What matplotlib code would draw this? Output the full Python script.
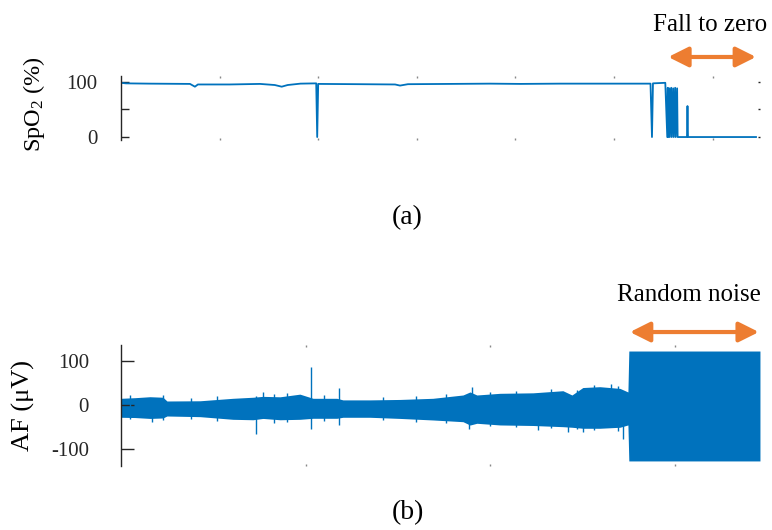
import matplotlib
matplotlib.use("Agg")
import matplotlib.pyplot as plt
from matplotlib.transforms import ScaledTranslation
import numpy as np

# SpO2 trace (time in top-axis units, value in %)
spo2_t = [0.00, 0.05, 0.29, 0.70, 0.75, 0.78, 1.10, 1.41, 1.56, 1.63, 1.69, 1.82,
          1.98, 1.99, 2.00, 2.42, 2.78, 2.83, 2.91, 3.34, 3.74, 4.05, 4.45, 4.86,
          5.37, 5.385, 5.395, 5.52, 5.54, 5.545, 5.55, 5.56, 5.565, 5.58, 5.585,
          5.60, 5.605, 5.62, 5.625, 5.64, 5.645, 5.74, 5.745, 5.75, 6.44]
spo2_v = [98, 97, 96.5, 96, 91, 95, 95, 96, 94, 91, 94, 96.5,
          97, 0, 96, 95.5, 95, 93, 95.5, 96, 96.5, 96, 96.5, 96.5,
          96.5, 0, 97, 98, 0, 89, 0, 88, 0, 89, 0,
          88, 0, 89, 0, 88, 0, 0, 56, 0, 0]

# AF envelope (time in bottom-axis units, uV)
af_t = [0.000, 0.076, 0.157, 0.227, 0.249, 0.428, 0.606, 0.715, 0.769, 0.861,
        0.969, 1.040, 1.169, 1.202, 1.348, 1.511, 1.689, 1.852, 1.890, 1.927,
        2.052, 2.231, 2.393, 2.442, 2.501, 2.593, 2.702, 2.745, 2.750, 3.460]
af_hi = [15.6, 17, 19.2, 18, 9.5, 10, 15.6, 18, 20, 19,
         25, 15.6, 15.6, 12, 12, 13, 15.6, 23.1, 30, 23.1,
         26.9, 28, 32.8, 23.1, 40, 41.9, 38, 30, 122.7, 122.7]
af_lo = [-27.4, -28, -30, -29, -24.5, -26, -32, -33, -30, -33,
         -32, -29.7, -29.7, -27.4, -27.4, -30, -33.5, -37.4, -45, -41,
         -44.8, -46, -48.7, -50, -52.3, -52.3, -50, -44.8, -126.3, -126.3]

# isolated spikes in the AF trace
spk_t = [0.050, 0.168, 0.230, 0.380, 0.520, 0.731, 0.769, 0.830, 0.900, 1.029,
         1.100, 1.180, 1.420, 1.600, 1.760, 1.884, 1.900, 2.000, 2.140, 2.258,
         2.330, 2.420, 2.470, 2.501, 2.560, 2.653, 2.690, 2.718]
spk_hi = [22, 15, 24, 16, 20, 20, 30, 26, 28, 85.8,
          22, 38.3, 19, 21, 26, 20, 41.9, 30, 33, 20,
          36, 20, 34, 30, 45, 47, 44, 20]
spk_lo = [-32, -37, -33, -31, -36, -65, -30, -40, -38, -54,
          -35, -44.8, -33, -37, -40, -54, -40, -48, -50, -56,
          -52, -60, -55, -60, -56, -45, -58, -76.5]

blue = "#0072BD"
orange = "#ED7D31"

plt.rcParams['font.family'] = ['Liberation Serif', 'DejaVu Serif']
plt.rcParams['mathtext.fontset'] = 'custom'
plt.rcParams['mathtext.rm'] = 'Liberation Serif'
plt.rcParams['mathtext.it'] = 'Liberation Serif:italic'

fig = plt.figure(figsize=(7.72, 5.30), dpi=100)
ax1 = fig.add_axes([0.1567, 0.7358, 0.8277, 0.1208])
ax2 = fig.add_axes([0.1567, 0.1208, 0.8277, 0.2283])


def style(ax, ticklen):
	for s in ['top', 'right', 'bottom']:
		ax.spines[s].set_visible(False)
	ax.spines['left'].set_color('#262626')
	ax.spines['left'].set_linewidth(1.0)
	ax.tick_params(axis='y', direction='in', length=ticklen, width=1.0,
		colors='#262626', labelsize=15, right=True)
	ax.tick_params(axis='x', direction='in', length=1.5, width=1.0,
		colors='#888888', labelbottom=False, top=True, bottom=True)
	ax.set_facecolor('none')
	for lab in ax.get_yticklabels():
		lab.set_transform(lab.get_transform() + ScaledTranslation(0, -2 / 100, fig.dpi_scale_trans))


# (a) SpO2
ax1.plot(spo2_t, spo2_v, color=blue, lw=1.3)
ax1.set_xlim(0, 6.48)
ax1.set_ylim(-5.4, 110.3)
ax1.set_xticks([1, 2, 3, 4, 5, 6])
ax1.set_yticks([0, 50, 100])
ax1.set_yticklabels(['0', '', '100'])
style(ax1, 6)
ax1.tick_params(axis='y', which='both', pad=17)
for t in ax1.yaxis.get_major_ticks():
	t.tick2line.set_markersize(1.5)
	t.tick2line.set_color('#888888')

# (b) AF
ax2.fill_between(af_t, af_lo, af_hi, color=blue, lw=0)
ax2.vlines(spk_t, spk_lo, spk_hi, color=blue, lw=1.0)
ax2.set_xlim(0, 3.46)
ax2.set_ylim(-137.7, 136.4)
ax2.set_xticks([1, 2, 3])
ax2.set_yticks([-100, 0, 100])
ax2.set_yticklabels(['-100', '0', '100'])
style(ax2, 9)
ax2.tick_params(axis='y', right=False, pad=23)

fig.text(0.044, 0.804, 'SpO$_2$ (%)', rotation=90, ha='center', va='center', fontsize=17.5)
fig.text(0.031, 0.234, 'AF (\u03bcV)', rotation=90, ha='center', va='center', fontsize=19)

# arrows and notes
ax1.annotate('', xy=(6.44, 1.297), xytext=(5.55, 1.297),
	xycoords=ax1.get_xaxis_transform(), textcoords=ax1.get_xaxis_transform(),
	arrowprops=dict(arrowstyle='<|-|>,head_length=0.6,head_width=0.3',
		color=orange, lw=3, mutation_scale=20, shrinkA=0, shrinkB=0))
ax2.annotate('', xy=(3.454, 1.107), xytext=(2.756, 1.107),
	xycoords=ax2.get_xaxis_transform(), textcoords=ax2.get_xaxis_transform(),
	arrowprops=dict(arrowstyle='<|-|>,head_length=0.6,head_width=0.3',
		color=orange, lw=3, mutation_scale=20, shrinkA=0, shrinkB=0))

fig.text(0.9197, 0.9528, 'Fall to zero', ha='center', va='center', fontsize=18)
fig.text(0.8925, 0.4434, 'Random noise', ha='center', va='center', fontsize=18)
fig.text(0.5272, 0.5887, '(a)', ha='center', va='center', fontsize=20)
fig.text(0.5285, 0.0321, '(b)', ha='center', va='center', fontsize=20)

fig.savefig('out.png', dpi=100)
